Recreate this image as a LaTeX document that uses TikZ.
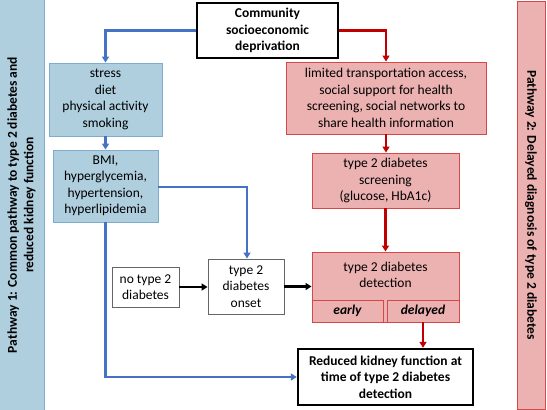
\documentclass[tikz,border=0pt]{standalone}
\usepackage{fontspec}
\setmainfont{Carlito}
\usetikzlibrary{arrows.meta}
\definecolor{box_blue}{RGB}{175,206,222}
\definecolor{edge_blue}{RGB}{125,172,205}
\definecolor{line_blue}{RGB}{68,114,196}
\definecolor{box_red}{RGB}{236,177,177}
\definecolor{edge_red}{RGB}{214,72,72}
\definecolor{line_red}{RGB}{192,0,0}
\tikzset{
  box/.style={rectangle, align=center, inner sep=1pt, font=\fontsize{13.5}{16.5}\selectfont},
  bluebox/.style={box, fill=box_blue, draw=edge_blue, line width=0.9pt},
  redbox/.style={box, fill=box_red, draw=edge_red, line width=0.9pt},
  plainbox/.style={box, fill=white, draw=black!60, line width=0.9pt},
  keybox/.style={box, fill=white, draw=black, line width=2.4pt, font=\fontsize{13.5}{16.5}\selectfont\bfseries},
  bluearrow/.style={line_blue, line width=2.4pt, -{Triangle[length=6pt,width=7pt]}},
  redarrow/.style={line_red, line width=2.4pt, -{Triangle[length=6pt,width=7pt]}},
  blackarrow/.style={black, line width=2.8pt, -{Triangle[length=6pt,width=7pt]}}
}

\begin{document}
\begin{tikzpicture}[x=1pt, y=-1pt]
\useasboundingbox (0,0) rectangle (547,410);
% side bars
\node[bluebox, minimum width=412pt, minimum height=45pt, rotate=90, font=\fontsize{13.5}{16.5}\selectfont\bfseries] (path1) at (21.5,205)
  {Pathway 1: Common pathway to type 2 diabetes and\\reduced kidney function};
\node[redbox, minimum width=408pt, minimum height=28pt, rotate=-90, font=\fontsize{13.5}{16.5}\selectfont\bfseries] (path2) at (531,205)
  {Pathway 2: Delayed diagnosis of type 2 diabetes};
% boxes
\node[keybox, minimum width=141pt, minimum height=55pt] (comm) at (267.5,30.5) {Community\\socioeconomic\\deprivation};
\node[bluebox, minimum width=113pt, minimum height=73pt] (stress) at (105.5,99.5) {stress\\diet\\physical activity\\smoking};
\node[bluebox, minimum width=105pt, minimum height=72pt] (bmi) at (105.5,186) {BMI,\\hyperglycemia,\\hypertension,\\hyperlipidemia};
\node[plainbox, minimum width=67pt, minimum height=40pt] (notype) at (145.5,287) {no type 2\\diabetes};
\node[plainbox, minimum width=76pt, minimum height=55pt] (onset) at (246,286.5) {type 2\\diabetes\\onset};
\node[redbox, minimum width=200pt, minimum height=72pt] (limited) at (386,98) {limited transportation access,\\social support for health\\screening, social networks to\\share health information};
\node[redbox, minimum width=147pt, minimum height=55pt] (screen) at (385.5,180.5) {type 2 diabetes\\screening\\(glucose, HbA1c)};
\node[redbox, minimum width=147pt, minimum height=70pt] (detect) at (385.5,287) {};
\node[box] (detecttext) at (385.5,275) {type 2 diabetes\\detection};
\node[redbox, minimum width=71pt, minimum height=22pt, font=\fontsize{13.5}{16.5}\selectfont\bfseries\itshape] (early) at (347.5,311) {early};
\node[redbox, minimum width=72pt, minimum height=22pt, font=\fontsize{13.5}{16.5}\selectfont\bfseries\itshape] (delayed) at (423,311) {delayed};
\node[keybox, minimum width=175pt, minimum height=56pt] (reduced) at (385.5,377) {Reduced kidney function at\\time of type 2 diabetes\\detection};
% pathway 1
\draw[bluearrow] (comm.west) -| (stress.north);
\draw[bluearrow] ([yshift=-1pt]bmi.east) -| ([xshift=1pt]onset.north);
\draw[bluearrow] (stress.south) -- (bmi.north);
\draw[bluearrow] (bmi.south) |- (reduced.west);
% pathway 2
\draw[redarrow] (comm.east) -| (limited.north);
\draw[redarrow] (limited.south) -- (limited.south |- screen.north);
\draw[redarrow] (screen.south) -- (detect.north);
\draw[redarrow] (delayed.south) -- (delayed.south |- reduced.north);
% onset
\draw[blackarrow] (notype.east) -- (notype.east -| onset.west);
\draw[blackarrow] (onset.east) -- (onset.east -| detect.west);
\end{tikzpicture}
\end{document}
